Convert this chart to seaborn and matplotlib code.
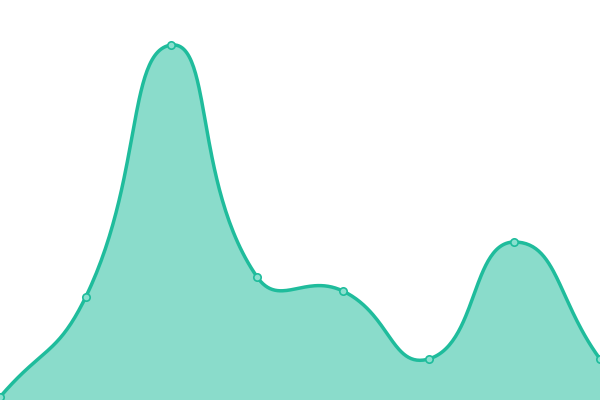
import numpy as np
import pandas as pd
import matplotlib
matplotlib.use("Agg")
import matplotlib.pyplot as plt
import seaborn as sns

# values (y axis 0..400, hidden axes)
categories = ["A", "B", "C", "D", "E", "F", "G", "H"]
values = [3, 103, 355, 123, 109, 41, 158, 41]

line_color = "#1fbc9c"
y_max = 400

# smooth curve like echarts (cubic bezier, smooth=0.5), computed in pixel space
W, H = 600, 400
n = len(values)
px = np.arange(n) * W / (n - 1)
py = np.array(values, dtype=float) * H / y_max
pts = np.column_stack([px, py])

cps = []
for i in range(n):
    p = pts[i]
    prev = pts[i - 1] if i > 0 else p
    nxt = pts[i + 1] if i < n - 1 else p
    v = (nxt - prev) * 0.5
    d0 = np.linalg.norm(p - prev)
    d1 = np.linalg.norm(p - nxt)
    s = d0 + d1
    if s:
        d0, d1 = d0 / s, d1 / s
    cps.append((p - v * d0, p + v * d1))

curve = []
t = np.linspace(0, 1, 60)[:, None]
for i in range(n - 1):
    p0, p3 = pts[i], pts[i + 1]
    p1, p2 = cps[i][1], cps[i + 1][0]
    seg = (1 - t) ** 3 * p0 + 3 * (1 - t) ** 2 * t * p1 + 3 * (1 - t) * t ** 2 * p2 + t ** 3 * p3
    curve.append(seg if i == 0 else seg[1:])
curve = np.vstack(curve)
cx = curve[:, 0] * (n - 1) / W
cy = curve[:, 1] * y_max / H

df = pd.DataFrame({"x": np.arange(n), "y": values})
smooth = pd.DataFrame({"x": cx, "y": cy})

fig = plt.figure(figsize=(6, 4), dpi=100)
ax = fig.add_axes([0, 0, 1, 1])
ax.fill_between(cx, cy, 0, color=line_color, alpha=0.52, linewidth=0)
sns.lineplot(data=smooth, x="x", y="y", ax=ax, color=line_color, linewidth=2.5, sort=False)
sns.scatterplot(data=df, x="x", y="y", ax=ax, s=28, color="#8ae0cf",
                edgecolor=line_color, linewidth=1.2, zorder=5, clip_on=False)
ax.set_xlim(0, n - 1)
ax.set_ylim(0, y_max)
ax.axis("off")
fig.savefig("out.png", dpi=100)
